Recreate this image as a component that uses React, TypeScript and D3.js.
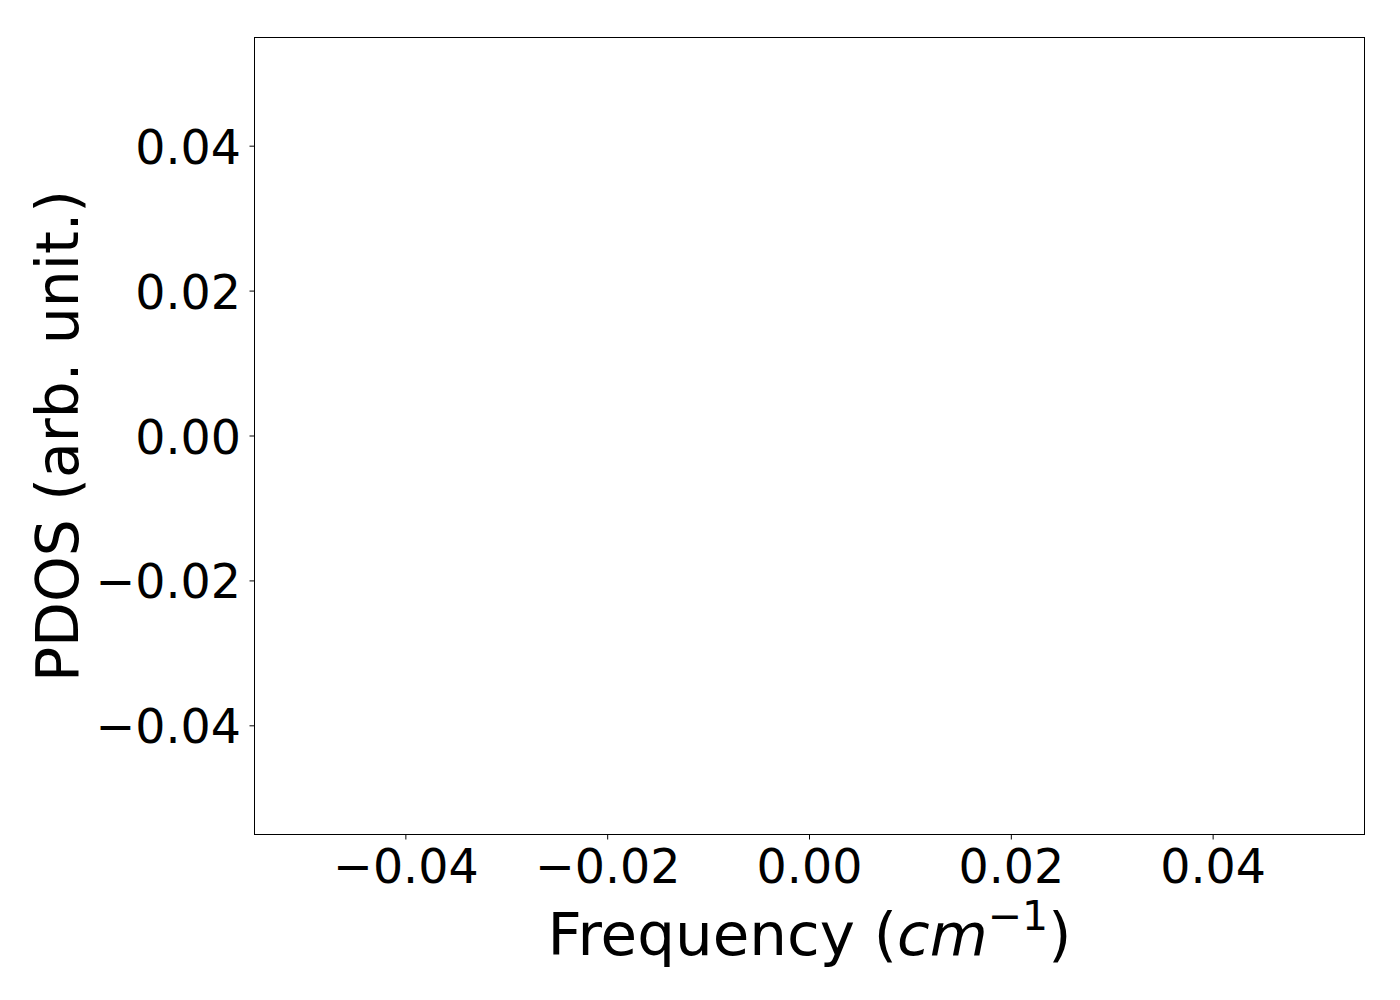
import React from "react";
import * as d3 from "d3";

const xTicks = [-0.04, -0.02, 0.0, 0.02, 0.04];
const yTicks = [-0.04, -0.02, 0.0, 0.02, 0.04];
const xDomain = [-0.055, 0.055];
const yDomain = [-0.055, 0.055];
const xLabelMain = "Frequency (";
const xLabelItalic = "cm";
const xLabelSup = "\u22121";
const yLabel = "PDOS (arb. unit.)";

const W = 1400;
const H = 1000;
const M = { left: 254.5, right: 1364.5, top: 37.5, bottom: 834.5 };
const FONT = "'DejaVu Sans', sans-serif";

const fmt = (v: number) => {
  const s = Math.abs(v).toFixed(2);
  return v < 0 ? "\u2212" + s : s;
};

export default function App() {
  const x = d3.scaleLinear().domain(xDomain).range([M.left, M.right]);
  const y = d3.scaleLinear().domain(yDomain).range([M.bottom, M.top]);
  const cx = (M.left + M.right) / 2;
  const cy = (M.top + M.bottom) / 2;
  return (
    <svg
      width={W}
      height={H}
      style={{ position: "absolute", left: 0, top: 0, background: "#fff" }}
      fontFamily={FONT}
    >
      <rect x={0} y={0} width={W} height={H} fill="#fff" />
      <rect
        x={M.left}
        y={M.top}
        width={M.right - M.left}
        height={M.bottom - M.top}
        fill="none"
        stroke="#000"
        strokeWidth={1}
      />
      {xTicks.map((t) => (
        <g key={"x" + t}>
          <line x1={x(t)} x2={x(t)} y1={M.bottom} y2={M.bottom + 5} stroke="#000" strokeWidth={1} />
          <text x={x(t)} y={883} textAnchor="middle" fontSize={47.5} fill="#000">
            {fmt(t)}
          </text>
        </g>
      ))}
      {yTicks.map((t) => (
        <g key={"y" + t}>
          <line x1={M.left - 5} x2={M.left} y1={y(t)} y2={y(t)} stroke="#000" strokeWidth={1} />
          <text x={241} y={y(t) + 17.5} textAnchor="end" fontSize={47.5} fill="#000">
            {fmt(t)}
          </text>
        </g>
      ))}
      <text x={cx} y={955} textAnchor="middle" fontSize={59.5} fill="#000">
        <tspan>{xLabelMain}</tspan>
        <tspan fontStyle="italic">{xLabelItalic}</tspan>
        <tspan fontSize={41} dy={-25}>{xLabelSup}</tspan>
        <tspan dy={25}>)</tspan>
      </text>
      <text
        transform={`translate(78,${cy}) rotate(-90)`}
        textAnchor="middle"
        fontSize={58.3}
        fill="#000"
      >
        {yLabel}
      </text>
    </svg>
  );
}
